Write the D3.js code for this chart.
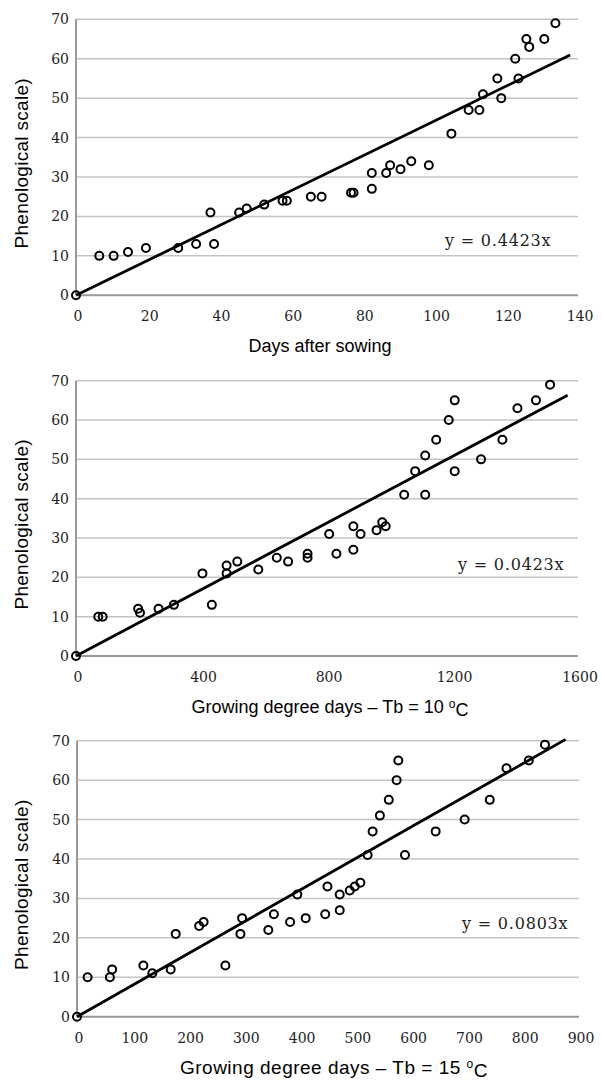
<!DOCTYPE html>
<html><head><meta charset="utf-8">
<script src="https://cdn.jsdelivr.net/npm/d3@7"></script>
<style>body{margin:0;background:#fff}svg{display:block}</style>
</head><body>
<script>
// ---- data ----
const yTicks = [0,10,20,30,40,50,60,70];
const xTicks1 = [0,20,40,60,80,100,120,140];
const xTicks2 = [0,400,800,1200,1600];
const xTicks3 = [0,100,200,300,400,500,600,700,800,900];

const days = [0,6.5,10.5,14.5,19.5,28.5,33.5,37.5,38.5,45.5,47.6,52.5,57.6,58.8,65.5,68.5,76.7,77.4,82.5,82.5,86.5,87.6,90.5,93.5,98.4,104.7,109.5,112.5,113.5,117.5,118.6,122.5,123.4,125.6,126.4,130.6,133.7];
const stage1 = [0,10,10,11,12,12,13,21,13,21,22,23,24,24,25,25,26,26,27,31,31,33,32,34,33,41,47,47,51,55,50,60,55,65,63,65,69];

const gdd10 = [0,71,85,198,204,263,312,403,433,480,480,514,581,640,676,738,738,807,830,884,884,907,958,976,987,1046,1081,1113,1113,1148,1188,1207,1207,1291,1359,1407,1466,1511];
const stage2 = [0,10,10,12,11,12,13,21,13,21,23,24,22,25,24,26,25,31,26,33,27,31,32,34,33,41,47,51,41,55,60,65,47,50,55,63,65,69];

const gdd15 = [0,19,59,63,119,135,168,177,219,227,266,293,296,343,353,382,395,410,445,449,471,471,489,498,508,521,530,543,559,573,576,588,643,695,740,770,810,839];
const stage3 = [0,10,10,12,13,11,12,21,23,24,13,21,25,22,26,24,31,25,26,33,31,27,32,33,34,41,47,51,55,60,65,41,47,50,55,63,65,69];

const slopes = [0.4423, 0.0423, 0.0803];
const trendEnd = [137.8, 1567, 876];
const xMax = [140, 1600, 900];
const xTitles = ["Days after sowing", "Growing degree days – Tb = 10 ", "Growing degree days – Tb = 15 "];
const eqLabels = ["y = 0.4423x", "y = 0.0423x", "y = 0.0803x"];

// ---- layout ----
const W = 602, H = 1087;
const svg = d3.select("body").append("svg").attr("width", W).attr("height", H);

const panels = [
  {xs: days, ys: stage1, xt: xTicks1, top: 19.3, bot: 295.3, left: 76, right: 578, eqX: 445, eqY: 246, titleX: 320, sup: false, tfs: 18, tls: 0},
  {xs: gdd10, ys: stage2, xt: xTicks2, top: 380.7, bot: 656, left: 76, right: 578, eqX: 458, eqY: 570, titleX: 330, sup: true, tfs: 18, tls: 0},
  {xs: gdd15, ys: stage3, xt: xTicks3, top: 740.7, bot: 1016.7, left: 77, right: 579, eqX: 462, eqY: 929, titleX: 334, sup: true, tfs: 19, tls: 0.5}
];

panels.forEach((p, i) => {
  const x = d3.scaleLinear().domain([0, xMax[i]]).range([p.left, p.right]);
  const y = d3.scaleLinear().domain([0, 70]).range([p.bot, p.top]);
  const g = svg.append("g");

  // gridlines
  g.selectAll("line.grid").data(yTicks.filter(d => d > 0)).join("line")
    .attr("x1", p.left).attr("x2", p.right)
    .attr("y1", d => y(d)).attr("y2", d => y(d))
    .attr("stroke", "#c4c4c4").attr("stroke-width", 1.5);

  // axes lines
  g.append("line").attr("x1", p.left).attr("x2", p.left).attr("y1", p.top).attr("y2", p.bot)
    .attr("stroke", "#999").attr("stroke-width", 2);
  g.append("line").attr("x1", p.left).attr("x2", p.right).attr("y1", p.bot).attr("y2", p.bot)
    .attr("stroke", "#999").attr("stroke-width", 2);

  // y tick labels
  g.selectAll("text.yt").data(yTicks).join("text")
    .attr("x", p.left - 7).attr("y", d => y(d)).attr("dy", "0.36em")
    .attr("text-anchor", "end")
    .style("font-family", "DejaVu Serif").style("font-size", "14px").attr("fill", "#222")
    .text(d => d);

  // x tick labels
  g.selectAll("text.xt").data(p.xt).join("text")
    .attr("x", d => x(d) + 2).attr("y", p.bot + 26)
    .attr("text-anchor", "middle")
    .style("font-family", "DejaVu Serif").style("font-size", "14px").attr("fill", "#222")
    .text(d => d);

  // trend line
  g.append("line")
    .attr("x1", x(0)).attr("y1", y(0))
    .attr("x2", x(trendEnd[i])).attr("y2", y(slopes[i] * trendEnd[i]))
    .attr("stroke", "#000").attr("stroke-width", 2.8);

  // points
  g.selectAll("circle").data(p.xs.map((v, k) => [v, p.ys[k]])).join("circle")
    .attr("cx", d => x(d[0])).attr("cy", d => y(d[1])).attr("r", 4)
    .attr("fill", "none").attr("stroke", "#000").attr("stroke-width", 2);

  // equation
  g.append("text").attr("x", p.eqX).attr("y", p.eqY)
    .style("font-family", "DejaVu Serif").style("font-size", "16px")
    .style("letter-spacing", "0.8px").attr("fill", "#222")
    .text(eqLabels[i]);

  // x title
  const t = g.append("text").attr("x", p.titleX).attr("y", p.bot + 57)
    .attr("text-anchor", "middle")
    .style("font-family", "Liberation Sans, Arial, sans-serif").style("font-size", p.tfs + "px")
    .style("letter-spacing", p.tls + "px").attr("fill", "#000");
  t.append("tspan").text(xTitles[i]);
  if (p.sup) {
    t.append("tspan").attr("dy", "-0.45em").style("font-size", "12px").text("o");
    t.append("tspan").attr("dy", "0.45em").text("C");
  }

  // y title
  const cy = (p.top + p.bot) / 2 + 6;
  g.append("text").attr("transform", `translate(28,${cy}) rotate(-90)`)
    .attr("text-anchor", "middle")
    .style("font-family", "Liberation Sans, Arial, sans-serif").style("font-size", "19px")
    .style("letter-spacing", "0.3px").attr("fill", "#000")
    .text("Phenological scale)");
});
</script>
</body></html>
